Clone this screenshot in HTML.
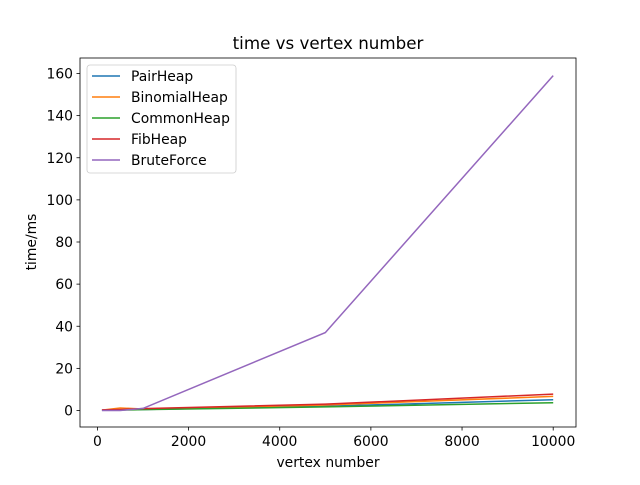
<!DOCTYPE html>
<html><head><meta charset="utf-8"><style>body{margin:0;background:#fff}svg{font-family:"DejaVu Sans","Liberation Sans",sans-serif}</style></head>
<body>
<svg id="c" width="640" height="480"></svg>
<script>
const xs=[100,500,1000,5000,10000];
const pairHeap=[0.1,0.3,0.5,2.0,5.1];
const binomialHeap=[0.2,1.2,0.7,2.6,6.7];
const commonHeap=[0.1,0.2,0.4,1.7,3.7];
const fibHeap=[0.3,0.5,0.9,3.0,7.8];
const bruteForce=[0.0,0.0,1.0,37,159];
const names=["PairHeap","BinomialHeap","CommonHeap","FibHeap","BruteForce"];
const colors=["#1f77b4","#ff7f0e","#2ca02c","#d62728","#9467bd"];
const xTicks=[0,2000,4000,6000,8000,10000];
const yTicks=[0,20,40,60,80,100,120,140,160];
const L=80,R=576,T=58,B=427;
const X=v=>97.4+(v-0)*(553.2-97.4)/10000;
const Y=v=>410.5-v*(410.5-73.5)/160;
const s=document.getElementById('c');const NS="http://www.w3.org/2000/svg";
function el(t,a,txt){const e=document.createElementNS(NS,t);for(const k in a)e.setAttribute(k,a[k]);if(txt!=null)e.textContent=txt;s.appendChild(e);return e;}
let e=el('text',{x:328,y:49,'text-anchor':'middle','font-size':16.7},'time vs vertex number');

const series=[pairHeap,binomialHeap,commonHeap,fibHeap,bruteForce];
series.forEach((d,i)=>{const p=el('polyline',{points:d.map((v,j)=>X(xs[j])+','+Y(v)).join(' '),fill:'none',stroke:colors[i],'stroke-width':1.5});
});
e=el('rect',{x:L,y:T,width:R-L,height:B-T,fill:'none',stroke:'#000','stroke-width':0.8});

xTicks.forEach(t=>{el('line',{x1:X(t),x2:X(t),y1:B,y2:B+3.5,stroke:'#000','stroke-width':0.8});
const l=el('text',{x:X(t),y:B+19,'text-anchor':'middle','font-size':13.9},t);});
yTicks.forEach(t=>{el('line',{x1:L,x2:L-3.5,y1:Y(t),y2:Y(t),stroke:'#000','stroke-width':0.8});
const l=el('text',{x:L-7,y:Y(t)+5,'text-anchor':'end','font-size':13.9},t);});
e=el('text',{x:328,y:467,'text-anchor':'middle','font-size':13.9},'vertex number');
e=el('text',{x:36,y:242,'text-anchor':'middle','font-size':13.9,transform:'rotate(-90 36 242)'},'time/ms');
e=el('rect',{x:87,y:65,width:149,height:108,rx:3,fill:'#fff',stroke:'#ccc','stroke-width':0.8});
names.forEach((n,i)=>{const y=76+i*21;el('line',{x1:92,x2:120,y1:y,y2:y,stroke:colors[i],'stroke-width':1.5});
const t=el('text',{x:131,y:y+5,'font-size':13.9},n);});
</script>
</body></html>
